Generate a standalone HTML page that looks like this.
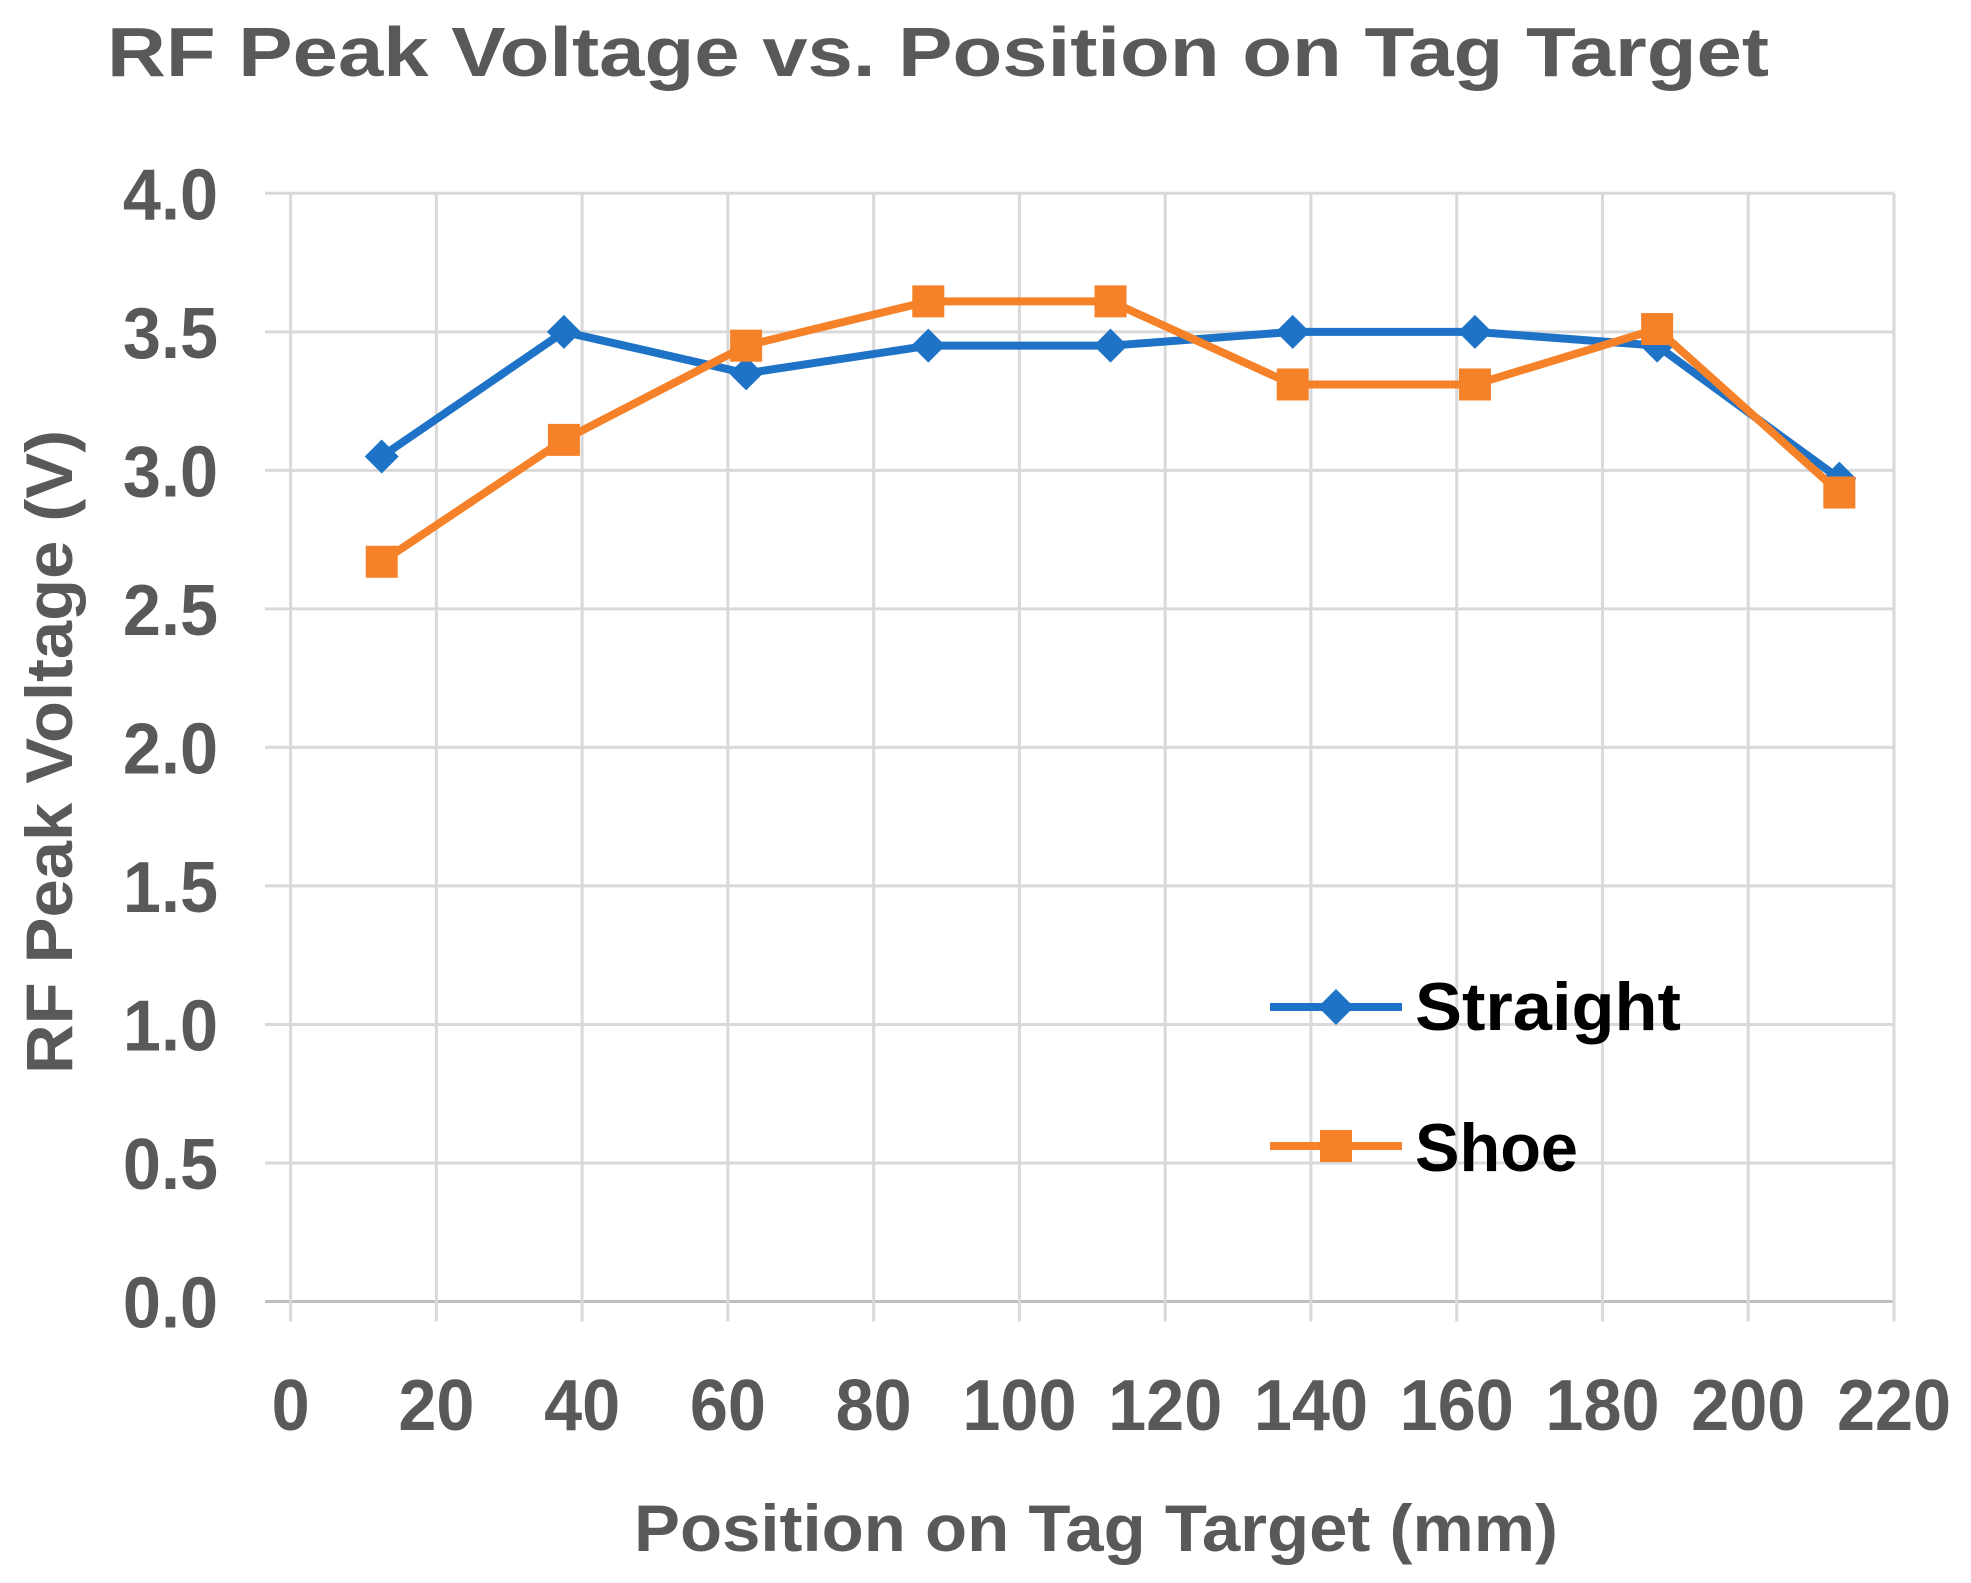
<!DOCTYPE html>
<html><head><meta charset="utf-8"><style>
html,body{margin:0;padding:0;background:#fff;}
svg text{font-family:"Liberation Sans",sans-serif;font-weight:bold;}
</style></head><body>
<svg id="chart" width="1971" height="1578" viewBox="0 0 1971 1578" xmlns="http://www.w3.org/2000/svg">
<rect width="1971" height="1578" fill="#fff"/>
<text x="107" y="76" font-size="70" fill="#595959" textLength="1662" lengthAdjust="spacingAndGlyphs">RF Peak Voltage vs. Position on Tag Target</text>
<g id="grid"></g><g id="ticks"></g><g id="series"></g>
<text x="1096" y="1551" font-size="66" fill="#595959" text-anchor="middle" textLength="924" lengthAdjust="spacingAndGlyphs">Position on Tag Target (mm)</text>
<text transform="translate(72,752) rotate(-90)" font-size="66" fill="#595959" text-anchor="middle" textLength="644" lengthAdjust="spacingAndGlyphs">RF Peak Voltage (V)</text>
<g>
<line x1="1270" y1="1007" x2="1402" y2="1007" stroke="#1f73c6" stroke-width="8"/>
<polygon points="1336,989 1354,1007 1336,1025 1318,1007" fill="#1f73c6"/>
<text x="1415" y="1030" font-size="68" fill="#000" textLength="266" lengthAdjust="spacingAndGlyphs">Straight</text>
<line x1="1270" y1="1146" x2="1402" y2="1146" stroke="#f58228" stroke-width="8"/>
<rect x="1320" y="1130" width="32" height="32" fill="#f58228"/>
<text x="1415" y="1171" font-size="68" fill="#000" textLength="163" lengthAdjust="spacingAndGlyphs">Shoe</text>
</g>
</svg>
<script>
const xCats=[12.5,37.5,62.5,87.5,112.5,137.5,162.5,187.5,212.5];
const straight=[3.05,3.5,3.35,3.45,3.45,3.5,3.5,3.45,2.97];
const shoe=[2.67,3.11,3.45,3.61,3.61,3.31,3.31,3.51,2.92];
const xTicks=[0,20,40,60,80,100,120,140,160,180,200,220];
const yTicks=[0,0.5,1,1.5,2,2.5,3,3.5,4];
const NS="http://www.w3.org/2000/svg";
const X0=290.6,X1=1894,Y0=1301.5,Y1=193.3;
const sx=v=>X0+(v/220)*(X1-X0);
const sy=v=>Y0-(v/4)*(Y0-Y1);
function mk(tag,attrs,parent){const e=document.createElementNS(NS,tag);for(const k in attrs)e.setAttribute(k,attrs[k]);parent.appendChild(e);return e;}
const grid=document.getElementById('grid'),ticks=document.getElementById('ticks'),ser=document.getElementById('series');
yTicks.forEach(t=>{
 const l=mk('line',{x1:265,x2:X1,y1:sy(t),y2:sy(t),stroke:t===0?'#bfbfbf':'#d9d9d9','stroke-width':3},grid);
 
 
 const tx=mk('text',{transform:`translate(218,${sy(t)+26}) scale(0.95,1)`,'font-size':72,fill:'#595959','text-anchor':'end'},ticks);
 tx.textContent=t.toFixed(1);
 
 
});
xTicks.forEach(t=>{
 const l=mk('line',{x1:sx(t),x2:sx(t),y1:Y1,y2:Y0+20,stroke:'#d9d9d9','stroke-width':3},grid);
 
 
 const tx=mk('text',{transform:`translate(${sx(t)},1430) scale(0.95,1)`,'font-size':72,fill:'#595959','text-anchor':'middle'},ticks);
 tx.textContent=t;
 
 
});
function drawSeries(vals,color,shape,name){
 const pts=vals.map((v,i)=>sx(xCats[i])+','+sy(v)).join(' ');
 const pl=mk('polyline',{points:pts,fill:'none',stroke:color,'stroke-width':8,'stroke-linejoin':'round'},ser);
 
 
 vals.forEach((v,i)=>{
  const cx=sx(xCats[i]),cy=sy(v);let m;
  if(shape==='diamond'){m=mk('polygon',{points:`${cx},${cy-17} ${cx+17},${cy} ${cx},${cy+17} ${cx-17},${cy}`,fill:color},ser);}
  else{m=mk('rect',{x:cx-16,y:cy-16,width:32,height:32,fill:color},ser);}
  
  
 });
}
drawSeries(straight,'#1f73c6','diamond','straight');
drawSeries(shoe,'#f58228','square','shoe');
</script>
</body></html>
